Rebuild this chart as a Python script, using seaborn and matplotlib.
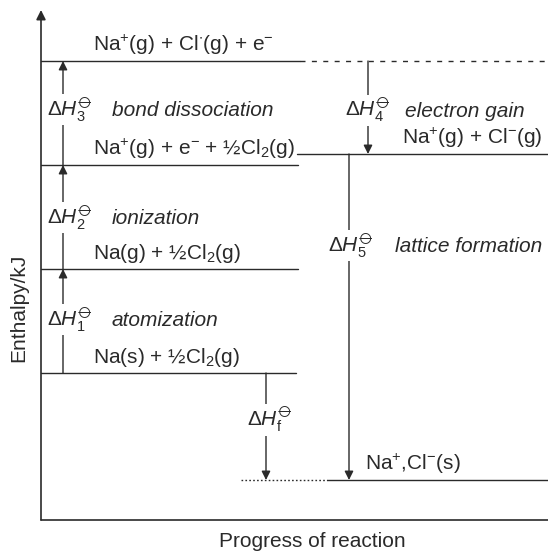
"""
Born-Haber cycle for sodium chloride - enthalpy level diagram.
Levels are drawn in diagram units (not to scale), as in the textbook figure.
"""
import numpy as np
import pandas as pd
import matplotlib
matplotlib.use("Agg")
import matplotlib.pyplot as plt
import seaborn as sns

sns.set_style("white")
plt.rcParams["font.family"] = ["Liberation Sans", "DejaVu Sans"]
plt.rcParams["mathtext.fontset"] = "custom"
plt.rcParams["mathtext.rm"] = "Liberation Sans"
plt.rcParams["mathtext.it"] = "Liberation Sans:italic"
plt.rcParams["mathtext.bf"] = "Liberation Sans:bold"
plt.rcParams["mathtext.fallback"] = "stixsans"

INK = "#2a2a2a"
FS = 15

# ---- Energy levels (diagram units) ----
level_species = [
    r"Na$^{+}$(g) + Cl$^{\bullet}$(g) + e$^{-}$",
    r"Na$^{+}$(g) + Cl$^{-}$(g)",
    r"Na$^{+}$(g) + e$^{-}$ + ½Cl$_{2}$(g)",
    r"Na(g) + ½Cl$_{2}$(g)",
    r"Na(s) + ½Cl$_{2}$(g)",
    r"Na$^{+}$,Cl$^{-}$(s)",
]
level_enthalpy = [459, 366, 355, 251, 147, 40]
level_x0 = [0, 256, 0, 0, 0, 286]
level_x1 = [259, 507, 257, 257, 255, 507]
species_x = [52, 361, 52, 52, 52, 324]

# extensions: dashed above ions, dotted reference for formation
ext_enthalpy = [459, 40]
ext_x0 = [259, 200]
ext_x1 = [507, 286]

# ---- Enthalpy changes ----
step_sub = ["1", "2", "3", "4", "5", r"\mathrm{f}"]
step_name = ["atomization", "ionization", "bond dissociation",
             "electron gain", "lattice formation", ""]
step_x = [22, 22, 22, 327, 308, 225]
step_from = [147, 251, 355, 459, 366, 147]
step_to = [251, 355, 459, 366, 40, 40]
label_x = [6, 6, 6, 304, 287, 206]
label_y = [194, 296, 404, 403, 268, 93]
name_x = [71, 71, 71, 364, 354, 0]
name_y = [194, 296, 404, 403, 268, 0]

fig = plt.figure(figsize=(5.48, 5.52), dpi=100)
ax = fig.add_axes([41 / 548, 32 / 552, 507 / 548, 510 / 552])

levels = pd.DataFrame({
    "x": level_x0 + level_x1,
    "enthalpy": level_enthalpy * 2,
    "seg": list(range(len(level_x0))) * 2,
})
sns.lineplot(data=levels, x="x", y="enthalpy", units="seg", estimator=None,
             sort=False, color=INK, lw=1.0, legend=False, ax=ax)

ext = pd.DataFrame({"x": ext_x0 + ext_x1, "enthalpy": ext_enthalpy * 2,
                    "seg": [0, 1, 0, 1]})
sns.lineplot(data=ext[ext.seg == 0], x="x", y="enthalpy", estimator=None,
             color=INK, lw=1.0, linestyle=(0, (3.6, 4.6)), ax=ax)
sns.lineplot(data=ext[ext.seg == 1], x="x", y="enthalpy", estimator=None,
             color=INK, lw=1.0, linestyle=(0, (1.2, 1.6)), ax=ax)

for sp, xs, e in zip(level_species, species_x, level_enthalpy):
    ax.text(xs, e + 10, sp, fontsize=FS, color=INK, va="baseline", ha="left")

for sub, xa, e0, e1, lx, ly, nm, nx, ny in zip(step_sub, step_x, step_from, step_to,
                                                label_x, label_y, step_name, name_x, name_y):
    ax.annotate("", xy=(xa, e1), xytext=(xa, e0),
                arrowprops=dict(arrowstyle="-|>", color=INK, lw=1.0,
                                mutation_scale=13, shrinkA=0, shrinkB=0))
    ax.text(lx, ly, r"$\Delta H_{%s}^{⦵}$" % sub, fontsize=FS, color=INK,
            va="baseline", ha="left",
            bbox=dict(fc="white", ec="none", pad=1.0))
    if nm:
        ax.text(nx, ny, nm, fontsize=FS, style="italic", color=INK,
                va="baseline", ha="left")

# axes: arrowed enthalpy axis, plain progress axis
ax.set_xlim(0, 507)
ax.set_ylim(0, 510)
ax.set_xticks([])
ax.set_yticks([])
for s in ax.spines.values():
    s.set_visible(False)
ax.plot([0, 507], [0, 0], color=INK, lw=1.2, clip_on=False)
ax.annotate("", xy=(0, 510), xytext=(0, 0),
            arrowprops=dict(arrowstyle="-|>", color=INK, lw=1.2,
                            mutation_scale=14, shrinkA=0, shrinkB=0),
            annotation_clip=False)

ax.set_xlabel("Progress of reaction", fontsize=FS, color=INK, va="baseline")
ax.xaxis.set_label_coords((312 - 41) / 507, (520 - 547) / 510)
ax.set_ylabel("Enthalpy/kJ", fontsize=FS, color=INK, va="baseline")
ax.yaxis.set_label_coords(-17 / 507, (520 - 308) / 510)

fig.savefig("out.png", dpi=100)
